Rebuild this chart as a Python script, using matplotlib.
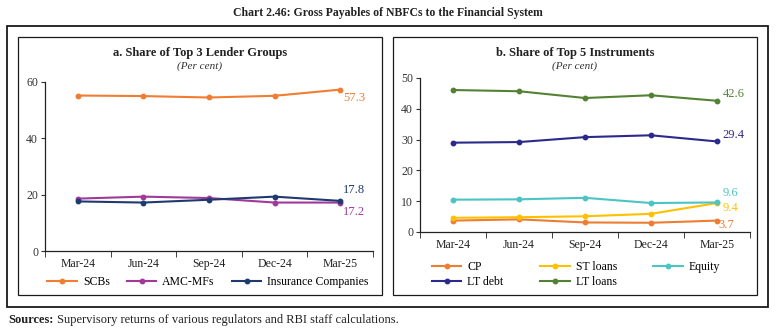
import matplotlib
matplotlib.use("Agg")
import matplotlib.pyplot as plt
from matplotlib.patches import Rectangle

plt.rcParams['font.family'] = ['Liberation Serif', 'DejaVu Serif']

quarters = ["Mar-24", "Jun-24", "Sep-24", "Dec-24", "Mar-25"]

# Panel a: share of top 3 lender groups (per cent)
scbs = [55.2, 55.0, 54.5, 55.1, 57.3]
amc_mfs = [18.6, 19.3, 18.8, 17.2, 17.2]
insurance = [17.6, 17.2, 18.2, 19.3, 17.8]

# Panel b: share of top 5 instruments (per cent)
cp = [3.7, 4.1, 3.1, 3.0, 3.7]
st_loans = [4.6, 4.8, 5.1, 5.9, 9.4]
equity = [10.5, 10.6, 11.1, 9.4, 9.6]
lt_debt = [29.0, 29.2, 30.8, 31.4, 29.4]
lt_loans = [46.1, 45.7, 43.5, 44.4, 42.6]

W, H = 776, 329
fig = plt.figure(figsize=(W / 100, H / 100), dpi=100)
TXT = "#222222"
FS = 8.5


def px_rect(x0, y0, x1, y1, lw):
    fig.patches.append(Rectangle((x0 / W, 1 - y1 / H), (x1 - x0) / W, (y1 - y0) / H,
                                 transform=fig.transFigure, fill=False,
                                 edgecolor="#1a1a1a", linewidth=lw))


def px_ax(x0, ytop, x1, ybot):
    return fig.add_axes([x0 / W, 1 - ybot / H, (x1 - x0) / W, (ybot - ytop) / H])


px_rect(7, 26, 768, 307, 1.3)
px_rect(18, 37, 382, 295, 0.9)
px_rect(393, 37, 757, 295, 0.9)

fig.text(388 / W, 1 - 13 / H, "Chart 2.46: Gross Payables of NBFCs to the Financial System",
         ha="center", va="center", fontsize=8.5, fontweight="bold", color=TXT)
src = fig.text(8 / W, 1 - 320 / H, "Sources:", ha="left", va="center", fontsize=9,
               fontweight="bold", color=TXT)
fig.canvas.draw()
bb = src.get_window_extent(renderer=fig.canvas.get_renderer())
fig.text((bb.x1 + 4) / W, 1 - 320 / H,
         "Supervisory returns of various regulators and RBI staff calculations.",
         ha="left", va="center", fontsize=9, color=TXT)

x = list(range(len(quarters)))


def style_axes(ax, ymax, step):
    ax.set_xlim(-0.5, len(quarters) - 0.5)
    ax.set_ylim(0, ymax)
    ax.set_yticks(range(0, ymax + 1, step))
    ax.set_xticks(x)
    ax.set_xticklabels(quarters)
    ax.set_xticks([i - 0.5 for i in range(len(quarters) + 1)], minor=True)
    ax.tick_params(axis="x", which="major", length=0, pad=5, labelsize=FS, colors=TXT)
    ax.tick_params(axis="x", which="minor", length=4, direction="out", color=TXT)
    ax.tick_params(axis="y", length=3, direction="out", labelsize=FS, colors="#333333", pad=2)
    for s in ("top", "right"):
        ax.spines[s].set_visible(False)
    for s in ("left", "bottom"):
        ax.spines[s].set_color(TXT)
        ax.spines[s].set_linewidth(0.9)
    ax.patch.set_alpha(0)


kw = dict(linewidth=1.5, marker="o", markersize=3.2)


def end_label(ax, vals, col, dx, dy):
    ax.annotate(f"{vals[-1]:.1f}", (x[-1], vals[-1]), xytext=(dx, dy), textcoords="offset points",
                color=col, fontsize=9, ha="left", va="center")


# Panel a
ax1 = px_ax(45, 82, 373, 251)
c_scb, c_amc, c_ins = "#F07D32", "#A0399A", "#1F3A70"
l1, = ax1.plot(x, scbs, color=c_scb, label="SCBs", **kw)
l2, = ax1.plot(x, amc_mfs, color=c_amc, label="AMC-MFs", **kw)
l3, = ax1.plot(x, insurance, color=c_ins, label="Insurance Companies", **kw)
style_axes(ax1, 60, 20)
end_label(ax1, scbs, c_scb, 2, -6)
end_label(ax1, insurance, c_ins, 2, 8)
end_label(ax1, amc_mfs, c_amc, 2, -6.5)
fig.text(200 / W, 1 - 53 / H, "a. Share of Top 3 Lender Groups", ha="center", va="center",
         fontsize=9, fontweight="bold", color=TXT)
fig.text(200 / W, 1 - 66 / H, "(Per cent)", ha="center", va="center",
         fontsize=8, style="italic", color="#333333")
fig.legend(handles=[l1, l2, l3], loc="center", bbox_to_anchor=(208 / W, 1 - 282 / H),
           ncol=3, frameon=False, fontsize=FS, handlelength=2.5, columnspacing=1.45,
           handletextpad=0.5, borderaxespad=0)

# Panel b
ax2 = px_ax(420, 78, 750, 232)
c_cp, c_st, c_eq, c_ltd, c_ltl = "#ED7D31", "#FFC000", "#4BC4C4", "#2B2A8C", "#548235"
m1, = ax2.plot(x, cp, color=c_cp, label="CP", **kw)
m2, = ax2.plot(x, st_loans, color=c_st, label="ST loans", **kw)
m3, = ax2.plot(x, equity, color=c_eq, label="Equity", **kw)
m4, = ax2.plot(x, lt_debt, color=c_ltd, label="LT debt", **kw)
m5, = ax2.plot(x, lt_loans, color=c_ltl, label="LT loans", **kw)
style_axes(ax2, 50, 10)
end_label(ax2, lt_loans, c_ltl, 4, 5)
end_label(ax2, lt_debt, c_ltd, 4, 4.5)
end_label(ax2, equity, c_eq, 4, 6.5)
end_label(ax2, st_loans, c_st, 4, -3.8)
end_label(ax2, cp, c_cp, 1, -3.5)
fig.text(575 / W, 1 - 53 / H, "b. Share of Top 5 Instruments", ha="center", va="center",
         fontsize=9, fontweight="bold", color=TXT)
fig.text(575 / W, 1 - 66 / H, "(Per cent)", ha="center", va="center",
         fontsize=8, style="italic", color="#333333")
fig.legend(handles=[m1, m4, m2, m5, m3], loc="center", bbox_to_anchor=(576 / W, 1 - 274.5 / H),
           ncol=3, frameon=False, fontsize=FS, handlelength=2.5, columnspacing=3.1,
           handletextpad=0.5, labelspacing=0.3, borderaxespad=0)

fig.savefig("out.png", dpi=100)
